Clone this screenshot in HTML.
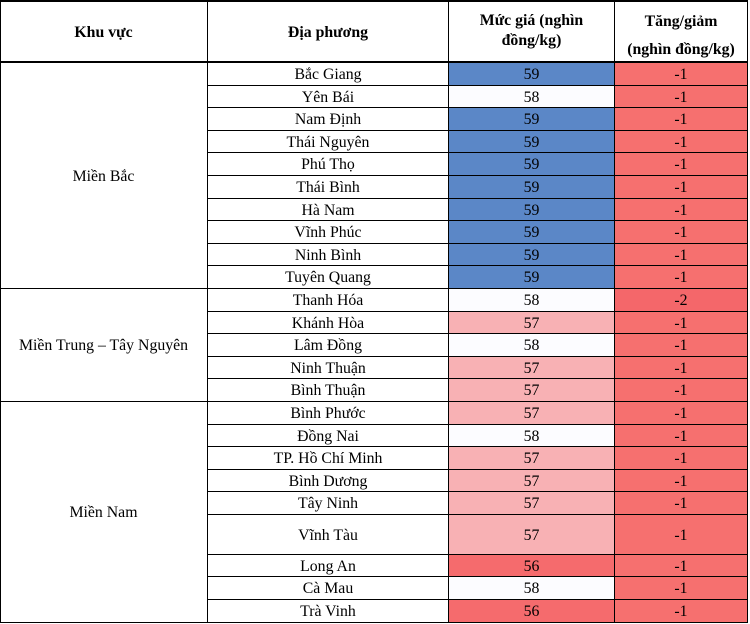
<!DOCTYPE html>
<html><head><meta charset="utf-8"><style>
body{margin:0;background:#fff;width:750px;height:624px;overflow:hidden;position:relative;font-family:"Liberation Serif",serif;font-size:15.8px;color:#000}
.c{position:absolute;display:flex;align-items:center;justify-content:center;text-align:center;box-sizing:border-box;border-right:1.5px solid #000;border-bottom:1.5px solid #000;line-height:1.15;padding-top:3px}
.h{font-weight:bold}
.b{background:#5b87c7}.w{background:#fcfcff}.p{background:#f8b1b4}.r{background:#f56b6d}.d{background:#f6706f}.dd{background:#f4676a}
</style></head><body>
<div style="position:absolute;left:0;top:0;width:748px;height:623px;border-top:2px solid #000;border-left:1.5px solid #000;box-sizing:border-box"></div>
<div class="c h" style="left:0;top:0;width:208px;height:63px;border-bottom-width:2px;padding-top:6px">Khu vực</div>
<div class="c h" style="left:208px;top:0;width:241px;height:63px;border-bottom-width:2px;padding-top:6px">Địa phương</div>
<div class="c h" style="left:449px;top:0;width:166px;height:63px;border-bottom-width:2px;padding-top:0;padding-bottom:0;line-height:1.25">Mức giá (nghìn<br>đồng/kg)</div>
<div class="c h" style="left:615px;top:0;width:133px;height:63px;border-bottom-width:2px;line-height:1.75;padding-top:10px">Tăng/giảm<br>(nghìn đồng/kg)</div>
<div class="c" style="left:0;top:63px;width:208px;height:226px">Miền Bắc</div>
<div class="c" style="left:0;top:289px;width:208px;height:113px">Miền Trung – Tây Nguyên</div>
<div class="c" style="left:0;top:402px;width:208px;height:221px">Miền Nam</div>
<div id="rows"></div>
<script>
var d=[["Bắc Giang",59,-1],["Yên Bái",58,-1],["Nam Định",59,-1],["Thái Nguyên",59,-1],["Phú Thọ",59,-1],["Thái Bình",59,-1],["Hà Nam",59,-1],["Vĩnh Phúc",59,-1],["Ninh Bình",59,-1],["Tuyên Quang",59,-1],["Thanh Hóa",58,-2],["Khánh Hòa",57,-1],["Lâm Đồng",58,-1],["Ninh Thuận",57,-1],["Bình Thuận",57,-1],["Bình Phước",57,-1],["Đồng Nai",58,-1],["TP. Hồ Chí Minh",57,-1],["Bình Dương",57,-1],["Tây Ninh",57,-1],["Vĩnh Tàu",57,-1],["Long An",56,-1],["Cà Mau",58,-1],["Trà Vinh",56,-1]];
var ys=[];for(var i=0;i<=20;i++)ys.push(Math.round(63+22.6*i));ys.push(555,577,600,623);
var cls={59:"b",58:"w",57:"p",56:"r"};var h="";
for(var i=0;i<d.length;i++){var t=ys[i],hh=ys[i+1]-t;
h+='<div class="c" style="left:208px;top:'+t+'px;width:241px;height:'+hh+'px">'+d[i][0]+'</div>';
h+='<div class="c '+cls[d[i][1]]+'" style="left:449px;top:'+t+'px;width:166px;height:'+hh+'px">'+d[i][1]+'</div>';
h+='<div class="c '+(d[i][2]==-2?'dd':'d')+'" style="left:615px;top:'+t+'px;width:133px;height:'+hh+'px">'+d[i][2]+'</div>';}
document.getElementById("rows").innerHTML=h;
</script>
</body></html>
